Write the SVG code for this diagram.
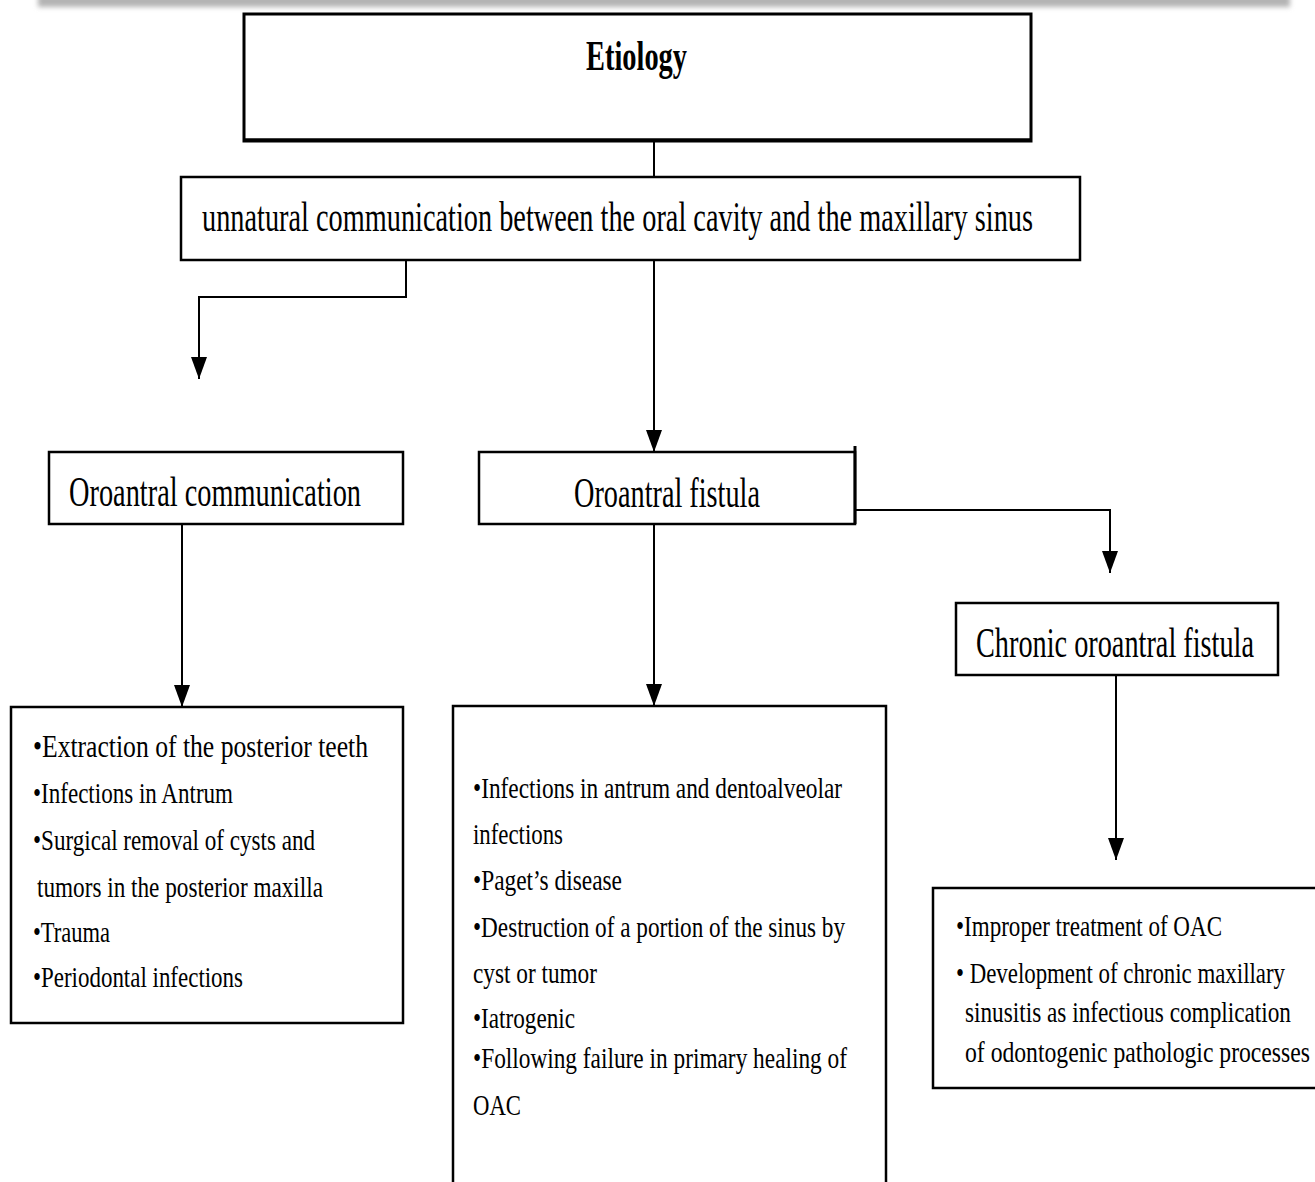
<svg xmlns="http://www.w3.org/2000/svg" width="1315" height="1182" viewBox="0 0 1315 1182">
<style>
.box{fill:#fff;stroke:#000;stroke-width:2.5}
.t{font-family:"Liberation Serif","Times New Roman",serif;fill:#000}
.h{font-size:28px}
.l{font-size:23px}
.c{fill:none;stroke:#000;stroke-width:2}
</style>
<defs>
<filter id="blur" x="-5%" y="-100%" width="110%" height="300%"><feGaussianBlur stdDeviation="2.5"/></filter>
<marker id="arr" markerUnits="userSpaceOnUse" markerWidth="24" markerHeight="18" viewBox="0 0 24 18" refX="23" refY="9" orient="auto">
<path d="M1,1 L23,9 L1,17 Z" fill="#000"/>
</marker>
</defs>
<rect x="0" y="0" width="1315" height="1182" fill="#fff"/>
<rect x="38" y="-12" width="1252" height="19" fill="#b4b4b4" filter="url(#blur)"/>

<g id="etiology">
<rect class="box" x="244" y="14" width="787" height="127" style="stroke-width:3"/>
<line x1="244" y1="140" x2="1031" y2="140" stroke="#000" stroke-width="3.5"/>
<text class="t" font-size="28" font-weight="bold" transform="translate(586,70) scale(1,1.5)" textLength="101" lengthAdjust="spacingAndGlyphs">Etiology</text>
</g>

<g id="unnatural">
<rect class="box" x="181" y="177" width="899" height="83"/>
<text class="t h" transform="translate(202,231) scale(1,1.5)" textLength="831" lengthAdjust="spacingAndGlyphs">unnatural communication between the oral cavity and the maxillary sinus</text>
</g>

<g id="oac">
<rect class="box" x="49" y="452" width="354" height="72"/>
<text class="t h" transform="translate(69,506) scale(1,1.5)" textLength="292" lengthAdjust="spacingAndGlyphs">Oroantral communication</text>
</g>

<g id="oaf">
<rect class="box" x="479" y="452" width="376" height="72"/>
<text class="t h" transform="translate(574,507) scale(1,1.5)" textLength="186" lengthAdjust="spacingAndGlyphs">Oroantral fistula</text>
</g>

<g id="chronic">
<rect class="box" x="956" y="603" width="322" height="72"/>
<text class="t h" transform="translate(976,657) scale(1,1.5)" textLength="278" lengthAdjust="spacingAndGlyphs">Chronic oroantral fistula</text>
</g>

<g id="oac-causes">
<rect class="box" x="11" y="707" width="392" height="316"/>
<text class="t" font-size="25" transform="translate(33,757) scale(1,1.28)" textLength="335" lengthAdjust="spacingAndGlyphs">•Extraction of the posterior teeth</text>
<text class="t l" transform="translate(33,803) scale(1,1.3)" textLength="200" lengthAdjust="spacingAndGlyphs">•Infections in Antrum</text>
<text class="t l" transform="translate(33,850) scale(1,1.3)" textLength="282" lengthAdjust="spacingAndGlyphs">•Surgical removal of cysts and</text>
<text class="t l" transform="translate(37,897) scale(1,1.3)" textLength="286" lengthAdjust="spacingAndGlyphs">tumors in the posterior maxilla</text>
<text class="t l" transform="translate(33,942) scale(1,1.3)" textLength="77" lengthAdjust="spacingAndGlyphs">•Trauma</text>
<text class="t l" transform="translate(33,987) scale(1,1.3)" textLength="210" lengthAdjust="spacingAndGlyphs">•Periodontal infections</text>
</g>

<g id="oaf-causes">
<rect class="box" x="453" y="706" width="433" height="490"/>
<text class="t l" transform="translate(473,798) scale(1,1.3)" textLength="369" lengthAdjust="spacingAndGlyphs">•Infections in antrum and dentoalveolar</text>
<text class="t l" transform="translate(473,844) scale(1,1.3)" textLength="90" lengthAdjust="spacingAndGlyphs">infections</text>
<text class="t l" transform="translate(473,890) scale(1,1.3)" textLength="149" lengthAdjust="spacingAndGlyphs">•Paget’s disease</text>
<text class="t l" transform="translate(473,937) scale(1,1.3)" textLength="372" lengthAdjust="spacingAndGlyphs">•Destruction of a portion of the sinus by</text>
<text class="t l" transform="translate(473,983) scale(1,1.3)" textLength="124" lengthAdjust="spacingAndGlyphs">cyst or tumor</text>
<text class="t l" transform="translate(473,1028) scale(1,1.3)" textLength="102" lengthAdjust="spacingAndGlyphs">•Iatrogenic</text>
<text class="t l" transform="translate(473,1068) scale(1,1.3)" textLength="374" lengthAdjust="spacingAndGlyphs">•Following failure in primary healing of</text>
<text class="t l" transform="translate(473,1115) scale(1,1.3)" textLength="48" lengthAdjust="spacingAndGlyphs">OAC</text>
</g>

<g id="chronic-causes">
<rect class="box" x="933" y="888" width="400" height="200"/>
<text class="t l" transform="translate(956,936) scale(1,1.3)" textLength="266" lengthAdjust="spacingAndGlyphs">•Improper treatment of OAC</text>
<text class="t l" transform="translate(956,983) scale(1,1.3)" textLength="329" lengthAdjust="spacingAndGlyphs">• Development of chronic maxillary</text>
<text class="t l" transform="translate(965,1022) scale(1,1.3)" textLength="326" lengthAdjust="spacingAndGlyphs">sinusitis as infectious complication</text>
<text class="t l" transform="translate(965,1062) scale(1,1.3)" textLength="345" lengthAdjust="spacingAndGlyphs">of odontogenic pathologic processes</text>
</g>

<g id="connectors">
<line class="c" x1="654" y1="141" x2="654" y2="177"/>
<polyline class="c" points="406,260 406,297 199,297 199,379" marker-end="url(#arr)"/>
<line class="c" x1="654" y1="260" x2="654" y2="452" marker-end="url(#arr)"/>
<line x1="855" y1="446" x2="855" y2="524" stroke="#000" stroke-width="3"/>
<polyline class="c" points="855,510 1110,510 1110,573" marker-end="url(#arr)"/>
<line class="c" x1="182" y1="524" x2="182" y2="707" marker-end="url(#arr)"/>
<line class="c" x1="654" y1="524" x2="654" y2="706" marker-end="url(#arr)"/>
<line class="c" x1="1116" y1="675" x2="1116" y2="860" marker-end="url(#arr)"/>
</g>
</svg>
